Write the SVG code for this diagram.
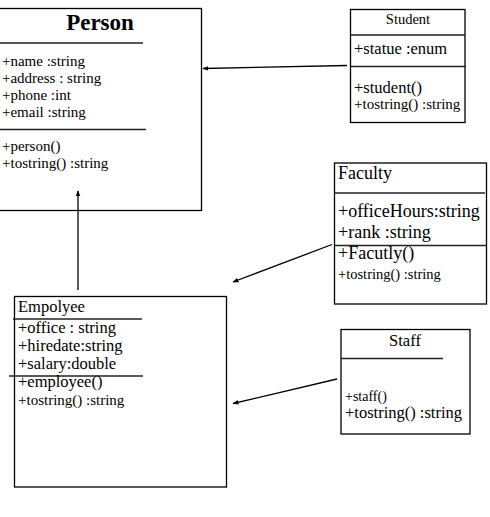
<svg xmlns="http://www.w3.org/2000/svg" width="490" height="517" viewBox="0 0 490 517">
<defs>
<style>
.box{fill:#fff;stroke:#000;stroke-width:1.3}
.sep{stroke:#222;stroke-width:1.3}
.t{font-family:"Liberation Serif","Times New Roman",serif;fill:#000}
.conn{stroke:#000;stroke-width:1.3;fill:none}
</style>
<marker id="ah" viewBox="0 0 10 10" refX="9" refY="5" markerWidth="6" markerHeight="6" orient="auto" markerUnits="userSpaceOnUse">
<path d="M0,1 L10,5 L0,9 Z" fill="#000"/>
</marker>
</defs>
<rect width="490" height="517" fill="#fff"/>
<g id="person">
<rect class="box" x="-5" y="8.5" width="206.5" height="202"/>
<text class="t" x="100" y="30" font-size="23" font-weight="bold" text-anchor="middle">Person</text>
<line class="sep" x1="0" y1="43" x2="143" y2="43"/>
<text class="t" x="2" y="66" font-size="15">+name :string</text>
<text class="t" x="2" y="83" font-size="15">+address : string</text>
<text class="t" x="2" y="100" font-size="15">+phone :int</text>
<text class="t" x="2" y="117" font-size="15">+email :string</text>
<line class="sep" x1="0" y1="129.5" x2="146" y2="129.5"/>
<text class="t" x="2" y="151" font-size="15">+person()</text>
<text class="t" x="2" y="168" font-size="15">+tostring() :string</text>
</g>
<g id="student">
<rect class="box" x="350.5" y="9.5" width="114.5" height="113"/>
<text class="t" x="408" y="24" font-size="14.5" text-anchor="middle">Student</text>
<line class="sep" x1="351" y1="35" x2="465" y2="35"/>
<text class="t" x="354" y="54" font-size="16.5">+statue :enum</text>
<line class="sep" x1="351" y1="66.5" x2="466" y2="66.5"/>
<text class="t" x="354" y="93" font-size="16.5">+student()</text>
<text class="t" x="354" y="109" font-size="15">+tostring() :string</text>
</g>
<g id="faculty">
<rect class="box" x="334.5" y="163" width="152" height="141"/>
<text class="t" x="338" y="179" font-size="18">Faculty</text>
<line class="sep" x1="335" y1="193" x2="485" y2="193"/>
<text class="t" x="338" y="217" font-size="18">+officeHours:string</text>
<text class="t" x="338" y="238" font-size="18">+rank :string</text>
<line class="sep" x1="335" y1="245.5" x2="486" y2="245.5"/>
<text class="t" x="338" y="259" font-size="18">+Facutly()</text>
<text class="t" x="338" y="279" font-size="14.5">+tostring() :string</text>
</g>
<g id="employee">
<rect class="box" x="14.5" y="296.5" width="212" height="190.5"/>
<text class="t" x="18" y="312" font-size="16.5">Empolyee</text>
<line class="sep" x1="13" y1="319" x2="142" y2="319"/>
<text class="t" x="18" y="332.5" font-size="16.5">+office : string</text>
<text class="t" x="18" y="351" font-size="16.5">+hiredate:string</text>
<text class="t" x="18" y="369" font-size="16.5">+salary:double</text>
<line class="sep" x1="9" y1="376" x2="143" y2="376"/>
<text class="t" x="18" y="387" font-size="16.5">+employee()</text>
<text class="t" x="18" y="405" font-size="15">+tostring() :string</text>
</g>
<g id="staff">
<rect class="box" x="341" y="329.5" width="129" height="104.5"/>
<text class="t" x="405" y="346" font-size="16.5" text-anchor="middle">Staff</text>
<line class="sep" x1="341" y1="358.5" x2="443" y2="358.5"/>
<text class="t" x="345" y="401" font-size="14">+staff()</text>
<text class="t" x="345" y="418" font-size="16.5">+tostring() :string</text>
</g>
<g id="connectors">
<line class="conn" x1="78" y1="290" x2="78" y2="191" marker-end="url(#ah)"/>
<line class="conn" x1="347" y1="65.5" x2="203" y2="68.5" marker-end="url(#ah)"/>
<line class="conn" x1="332" y1="244.5" x2="233" y2="282" marker-end="url(#ah)"/>
<line class="conn" x1="337" y1="379" x2="233" y2="403.5" marker-end="url(#ah)"/>
</g>
</svg>
